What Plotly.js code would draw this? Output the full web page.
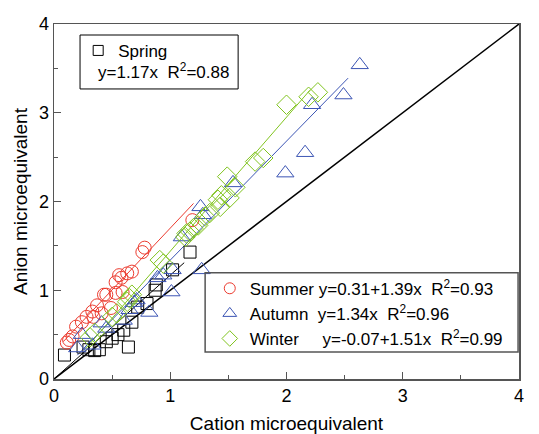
<!DOCTYPE html>
<html>
<head>
<meta charset="utf-8">
<script src="https://cdn.plot.ly/plotly-3.0.1.min.js"></script>
<style>html,body{margin:0;padding:0;background:#fff;}#chart{width:539px;height:434px;}</style>
</head>
<body>
<div id="chart"></div>
<script>
// ---- Data ----
const springX = [0.09, 0.25, 0.30, 0.35, 0.39, 0.45, 0.50, 0.55, 0.60, 0.64, 0.67, 0.72, 0.80, 0.87, 0.88, 1.02, 1.17];
const springY = [0.27, 0.36, 0.33, 0.32, 0.33, 0.42, 0.46, 0.50, 0.55, 0.36, 0.64, 0.81, 0.85, 1.00, 1.06, 1.23, 1.43];

const summerX = [0.11, 0.13, 0.16, 0.19, 0.24, 0.28, 0.33, 0.34, 0.37, 0.41, 0.43, 0.45, 0.49, 0.53, 0.53, 0.56, 0.58, 0.59, 0.63, 0.67, 0.76, 0.78, 1.19];
const summerY = [0.41, 0.44, 0.48, 0.59, 0.64, 0.70, 0.76, 0.70, 0.83, 0.74, 0.95, 0.95, 0.80, 1.09, 0.97, 1.17, 1.14, 0.98, 1.19, 1.21, 1.43, 1.48, 1.79];

const autumnX = [0.20, 0.24, 0.33, 0.41, 0.45, 0.60, 0.65, 0.69, 0.71, 0.82, 0.89, 0.94, 1.01, 1.02, 1.10, 1.26, 1.27, 1.28, 1.54, 1.99, 2.16, 2.22, 2.49, 2.63];
const autumnY = [0.35, 0.50, 0.38, 0.63, 0.57, 0.66, 0.78, 0.86, 0.89, 0.75, 1.14, 1.17, 0.98, 1.23, 1.60, 1.94, 1.23, 1.85, 2.21, 2.32, 2.55, 3.09, 3.20, 3.54];

const winterX = [0.31, 0.35, 0.50, 0.54, 0.63, 0.65, 0.67, 0.91, 0.94, 1.13, 1.14, 1.17, 1.20, 1.24, 1.30, 1.34, 1.41, 1.43, 1.44, 1.49, 1.51, 1.56, 1.73, 1.80, 2.00, 2.19, 2.27];
const winterY = [0.47, 0.52, 0.70, 0.74, 0.87, 0.91, 0.95, 1.34, 1.30, 1.60, 1.64, 1.66, 1.70, 1.73, 1.83, 1.87, 2.02, 1.94, 2.07, 2.28, 2.04, 2.16, 2.45, 2.49, 3.09, 3.18, 3.23];

// regression equations: [intercept, slope], and x-range of each fit line
const springFit = [0, 1.17];   const springFitX = [0, 1.12];
const summerFit = [0.31, 1.39]; const summerFitX = [0.08, 1.2];
const autumnFit = [0, 1.34];   const autumnFitX = [0.2, 2.53];
const winterFit = [-0.07, 1.51]; const winterFitX = [0.27, 2.2];
const oneToOneX = [0, 4];

const tickVals = [0, 1, 2, 3, 4];

// ---- Styles ----
const RED = '#ec3b2f', BLUE = '#3c55b4', GREEN = '#80c41e', BLACK = '#000000';
const FONT = 'Liberation Sans, Arial, sans-serif';

function fitLine(fit, xs, color, width) {
  return {x: xs, y: xs.map(v => fit[0] + fit[1] * v), mode: 'lines', type: 'scatter',
    line: {color: color, width: width}, showlegend: false, hoverinfo: 'skip'};
}
function pts(x, y, symbol, color, size) {
  return {x: x, y: y, mode: 'markers', type: 'scatter', showlegend: false,
    marker: {symbol: symbol, size: size, color: color, line: {color: color, width: 1}}};
}
// legend key (no data points; only its legend symbol is drawn)
function key(name, symbol, color, size, legend) {
  return {x: [null], y: [null], name: name, mode: 'markers', type: 'scatter', legend: legend, showlegend: true,
    marker: {symbol: symbol, size: size, color: color, line: {color: color, width: 1}}};
}

const NB = '\u00a0';
const traces = [
  fitLine([0, 1], oneToOneX, BLACK, 1.5),
  fitLine(springFit, springFitX, BLACK, 1),
  fitLine(summerFit, summerFitX, RED, 1),
  fitLine(autumnFit, autumnFitX, BLUE, 1),
  fitLine(winterFit, winterFitX, GREEN, 1),
  pts(springX, springY, 'square-open', BLACK, 12),
  pts(summerX, summerY, 'circle-open', RED, 13),
  pts(autumnX, autumnY, 'triangle-up-open', BLUE, 15),
  pts(winterX, winterY, 'diamond-open', GREEN, 15),
  key('Spring', 'square-open', BLACK, 10, 'legend'),
  key('Summer' + NB + 'y=0.31+1.39x' + NB + NB + 'R<sup>2</sup>=0.93', 'circle-open', RED, 11, 'legend2'),
  key('Autumn' + NB + NB + 'y=1.34x' + NB + NB + 'R<sup>2</sup>=0.96', 'triangle-up-open', BLUE, 12, 'legend2'),
  key('Winter' + NB + NB + NB + NB + NB + 'y=-0.07+1.51x' + NB + NB + 'R<sup>2</sup>=0.99', 'diamond-open', GREEN, 12, 'legend2')
];

const axisCommon = {
  range: [0, 4], tickvals: tickVals, ticks: 'inside', ticklen: 7, tickwidth: 1, tickcolor: '#555',
  showline: true, linecolor: '#555', linewidth: 1.5, mirror: true, zeroline: false, showgrid: false,
  tickfont: {family: FONT, size: 18, color: '#000'},
  minor: {dtick: 0.5, ticks: 'inside', ticklen: 4, tickcolor: '#555', tickwidth: 1, showgrid: false}
};

const layout = {
  width: 539, height: 434,
  margin: {l: 54, r: 20, t: 24, b: 55},
  paper_bgcolor: '#fff', plot_bgcolor: '#fff',
  font: {family: FONT, color: '#000'},
  xaxis: Object.assign({}, axisCommon, {title: {text: 'Cation microequivalent', font: {family: FONT, size: 19}, standoff: 13}}),
  yaxis: Object.assign({}, axisCommon, {title: {text: 'Anion microequivalent', font: {family: FONT, size: 19}, standoff: 6}}),
  legend: {x: 0.052, y: 0.975, xanchor: 'left', yanchor: 'top', bgcolor: 'rgba(0,0,0,0)', borderwidth: 0,
    font: {family: FONT, size: 17, color: '#000'}},
  legend2: {x: 0.335, y: 0.305, xanchor: 'left', yanchor: 'top', bgcolor: 'rgba(0,0,0,0)', borderwidth: 0,
    font: {family: FONT, size: 17, color: '#000'}, tracegroupgap: 0},
  shapes: [
    {type: 'rect', xref: 'paper', yref: 'paper', x0: 0.056, x1: 0.396, y0: 0.817, y1: 0.969, line: {color: '#000', width: 1}},
    {type: 'rect', xref: 'paper', yref: 'paper', x0: 0.325, x1: 0.998, y0: 0.076, y1: 0.299, line: {color: '#555', width: 1.5}}
  ],
  annotations: [
    {xref: 'paper', yref: 'paper', x: 0.09, y: 0.868, xanchor: 'left', yanchor: 'middle', showarrow: false,
     text: 'y=1.17x' + NB + NB + 'R<sup>2</sup>=0.88', font: {family: FONT, size: 17, color: '#000'}}
  ]
};

Plotly.newPlot('chart', traces, layout, {displayModeBar: false, staticPlot: true});
</script>
</body>
</html>
